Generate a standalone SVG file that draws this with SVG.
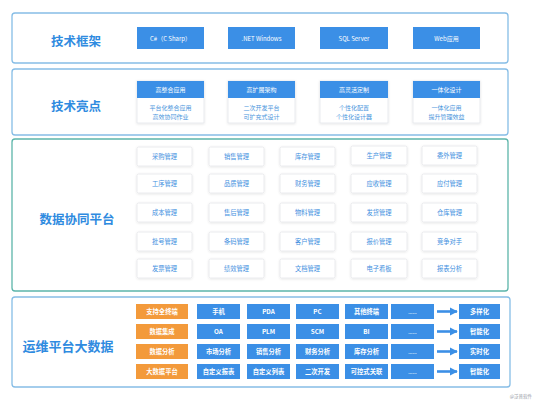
<svg xmlns="http://www.w3.org/2000/svg" width="541" height="400" viewBox="0 0 541 400">
<defs>
<filter id="sh" x="-20%" y="-30%" width="140%" height="160%"><feDropShadow dx="0" dy="0.6" stdDeviation="0.8" flood-color="#000" flood-opacity="0.12"/></filter>
<marker id="ah" viewBox="0 0 10 10" refX="9" refY="5" markerWidth="3" markerHeight="3.2" orient="auto"><path d="M0,0 L10,5 L0,10 Z" fill="#3b8fe6"/></marker>
</defs>
<style>
text{font-family:"Noto Sans CJK SC","Liberation Sans",sans-serif;text-anchor:middle;dominant-baseline:central}
.sec{fill:#fff;stroke:#86bde6;stroke-width:1.3}
.sec3{fill:#fff;stroke:#5cb5aa;stroke-width:1.3}
.ttl{font-size:12.5px;font-weight:bold;fill:#2f8be0}
.bb{fill:#3b8fe6}
.ob{fill:#f39a3b}
.wt{font-size:6px;fill:#fff}
.wb{font-size:6.3px;fill:#fff;font-weight:bold}
.dots{font-size:5px;fill:#fff}
.card{fill:#fff;stroke:#e4e6ea;stroke-width:0.8;filter:url(#sh)}
.ct{font-size:6.3px;fill:#3f90e0}
.bt{font-size:6px;fill:#4a95dc}
</style>
<rect width="541" height="400" fill="#fff"/>

<g id="sec1">
<rect class="sec" x="12" y="13" width="496" height="50" rx="3"/>
<text class="ttl" x="76" y="40">技术框架</text>
<g id="tf1"><rect class="bb" x="137" y="27" width="67" height="22"/><text class="wt" x="170.5" y="38">C#（C Sharp）</text></g>
<g id="tf2"><rect class="bb" x="228" y="27" width="67" height="22"/><text class="wt" x="261.5" y="38">.NET  Windows</text></g>
<g id="tf3"><rect class="bb" x="320" y="27" width="68" height="22"/><text class="wt" x="354" y="38">SQL Server</text></g>
<g id="tf4"><rect class="bb" x="413" y="27" width="67" height="22"/><text class="wt" x="446.5" y="38">Web应用</text></g>
</g>

<g id="sec2">
<rect class="sec" x="12" y="69" width="496" height="66" rx="3"/>
<text class="ttl" x="76" y="105">技术亮点</text>
<g id="hl1"><rect class="card" x="137" y="81" width="67" height="42"/><rect class="bb" x="137" y="81" width="67" height="17"/><text class="wt" x="170.5" y="89.5">高整合应用</text><text class="bt" x="170.5" y="107">平台化整合应用</text><text class="bt" x="170.5" y="116">高效协同作业</text></g>
<g id="hl2"><rect class="card" x="228" y="81" width="67" height="42"/><rect class="bb" x="228" y="81" width="67" height="17"/><text class="wt" x="261.5" y="89.5">高扩展架构</text><text class="bt" x="261.5" y="107">二次开发平台</text><text class="bt" x="261.5" y="116">可扩充式设计</text></g>
<g id="hl3"><rect class="card" x="320" y="81" width="68" height="42"/><rect class="bb" x="320" y="81" width="68" height="17"/><text class="wt" x="354" y="89.5">高灵活定制</text><text class="bt" x="354" y="107">个性化配置</text><text class="bt" x="354" y="116">个性化设计器</text></g>
<g id="hl4"><rect class="card" x="413" y="81" width="67" height="42"/><rect class="bb" x="413" y="81" width="67" height="17"/><text class="wt" x="446.5" y="89.5">一体化设计</text><text class="bt" x="446.5" y="107">一体化应用</text><text class="bt" x="446.5" y="116">提升管理效益</text></g>
</g>

<g id="sec3">
<rect class="sec3" x="12" y="139" width="496" height="152" rx="3"/>
<text class="ttl" x="77" y="218">数据协同平台</text>
<g id="m1"><rect class="card" x="137" y="147" width="55" height="19" rx="1.5"/><text class="ct" x="164.5" y="156.5">采购管理</text></g>
<g id="m2"><rect class="card" x="209" y="147" width="55" height="19" rx="1.5"/><text class="ct" x="236.5" y="156.5">销售管理</text></g>
<g id="m3"><rect class="card" x="280" y="147" width="55" height="19" rx="1.5"/><text class="ct" x="307.5" y="156.5">库存管理</text></g>
<g id="m4"><rect class="card" x="351" y="146" width="56" height="19" rx="1.5"/><text class="ct" x="379" y="155.5">生产管理</text></g>
<g id="m5"><rect class="card" x="422" y="146" width="55" height="19" rx="1.5"/><text class="ct" x="449.5" y="155.5">委外管理</text></g>

<g id="m6"><rect class="card" x="137" y="174" width="55" height="19" rx="1.5"/><text class="ct" x="164.5" y="183.5">工序管理</text></g>
<g id="m7"><rect class="card" x="209" y="174" width="55" height="19" rx="1.5"/><text class="ct" x="236.5" y="183.5">品质管理</text></g>
<g id="m8"><rect class="card" x="280" y="174" width="55" height="19" rx="1.5"/><text class="ct" x="307.5" y="183.5">财务管理</text></g>
<g id="m9"><rect class="card" x="351" y="174" width="56" height="19" rx="1.5"/><text class="ct" x="379" y="183.5">应收管理</text></g>
<g id="m10"><rect class="card" x="422" y="174" width="55" height="19" rx="1.5"/><text class="ct" x="449.5" y="183.5">应付管理</text></g>

<g id="m11"><rect class="card" x="137" y="203" width="55" height="19" rx="1.5"/><text class="ct" x="164.5" y="212.5">成本管理</text></g>
<g id="m12"><rect class="card" x="209" y="203" width="55" height="19" rx="1.5"/><text class="ct" x="236.5" y="212.5">售后管理</text></g>
<g id="m13"><rect class="card" x="280" y="203" width="55" height="19" rx="1.5"/><text class="ct" x="307.5" y="212.5">物料管理</text></g>
<g id="m14"><rect class="card" x="351" y="203" width="56" height="19" rx="1.5"/><text class="ct" x="379" y="212.5">发货管理</text></g>
<g id="m15"><rect class="card" x="422" y="203" width="55" height="19" rx="1.5"/><text class="ct" x="449.5" y="212.5">仓库管理</text></g>

<g id="m16"><rect class="card" x="137" y="232" width="55" height="19" rx="1.5"/><text class="ct" x="164.5" y="241.5">批号管理</text></g>
<g id="m17"><rect class="card" x="209" y="232" width="55" height="19" rx="1.5"/><text class="ct" x="236.5" y="241.5">条码管理</text></g>
<g id="m18"><rect class="card" x="280" y="232" width="55" height="19" rx="1.5"/><text class="ct" x="307.5" y="241.5">客户管理</text></g>
<g id="m19"><rect class="card" x="351" y="232" width="56" height="19" rx="1.5"/><text class="ct" x="379" y="241.5">报价管理</text></g>
<g id="m20"><rect class="card" x="422" y="232" width="55" height="19" rx="1.5"/><text class="ct" x="449.5" y="241.5">竞争对手</text></g>

<g id="m21"><rect class="card" x="137" y="259" width="55" height="19" rx="1.5"/><text class="ct" x="164.5" y="268.5">发票管理</text></g>
<g id="m22"><rect class="card" x="209" y="259" width="55" height="19" rx="1.5"/><text class="ct" x="236.5" y="268.5">绩效管理</text></g>
<g id="m23"><rect class="card" x="280" y="259" width="55" height="19" rx="1.5"/><text class="ct" x="307.5" y="268.5">文档管理</text></g>
<g id="m24"><rect class="card" x="351" y="259" width="56" height="19" rx="1.5"/><text class="ct" x="379" y="268.5">电子看板</text></g>
<g id="m25"><rect class="card" x="422" y="259" width="55" height="19" rx="1.5"/><text class="ct" x="449.5" y="268.5">报表分析</text></g>
</g>

<g id="sec4">
<rect class="sec" x="12" y="297" width="498" height="90" rx="3"/>
<text class="ttl" x="68" y="345" style="font-size:13px">运维平台大数据</text>

<g id="r1">
<rect class="ob" x="136" y="304" width="52" height="15"/><text class="wb" x="162" y="311.5">支持全终端</text>
<rect class="bb" x="197" y="304" width="43" height="15"/><text class="wb" x="218.5" y="311.5">手机</text>
<rect class="bb" x="247" y="304" width="43" height="15"/><text class="wb" x="268.5" y="311.5">PDA</text>
<rect class="bb" x="296" y="304" width="43" height="15"/><text class="wb" x="317.5" y="311.5">PC</text>
<rect class="bb" x="345" y="304" width="43" height="15"/><text class="wb" x="366.5" y="311.5">其他终端</text>
<rect class="bb" x="391" y="304" width="43" height="15"/><text class="dots" x="412.5" y="311.5">......</text>
<rect class="bb" x="459" y="304" width="41" height="15"/><text class="wb" x="479.5" y="311.5">多样化</text>
</g>
<g id="r2">
<rect class="ob" x="136" y="324" width="52" height="15"/><text class="wb" x="162" y="331.5">数据集成</text>
<rect class="bb" x="197" y="324" width="43" height="15"/><text class="wb" x="218.5" y="331.5">OA</text>
<rect class="bb" x="247" y="324" width="43" height="15"/><text class="wb" x="268.5" y="331.5">PLM</text>
<rect class="bb" x="296" y="324" width="43" height="15"/><text class="wb" x="317.5" y="331.5">SCM</text>
<rect class="bb" x="345" y="324" width="43" height="15"/><text class="wb" x="366.5" y="331.5">BI</text>
<rect class="bb" x="391" y="324" width="43" height="15"/><text class="dots" x="412.5" y="331.5">......</text>
<rect class="bb" x="459" y="324" width="41" height="15"/><text class="wb" x="479.5" y="331.5">智能化</text>
</g>
<g id="r3">
<rect class="ob" x="136" y="344" width="52" height="15"/><text class="wb" x="162" y="351.5">数据分析</text>
<rect class="bb" x="197" y="344" width="43" height="15"/><text class="wb" x="218.5" y="351.5">市场分析</text>
<rect class="bb" x="247" y="344" width="43" height="15"/><text class="wb" x="268.5" y="351.5">销售分析</text>
<rect class="bb" x="296" y="344" width="43" height="15"/><text class="wb" x="317.5" y="351.5">财务分析</text>
<rect class="bb" x="345" y="344" width="43" height="15"/><text class="wb" x="366.5" y="351.5">库存分析</text>
<rect class="bb" x="391" y="344" width="43" height="15"/><text class="dots" x="412.5" y="351.5">......</text>
<rect class="bb" x="459" y="344" width="41" height="15"/><text class="wb" x="479.5" y="351.5">实时化</text>
</g>
<g id="r4">
<rect class="ob" x="136" y="364" width="52" height="15"/><text class="wb" x="162" y="371.5">大数据平台</text>
<rect class="bb" x="197" y="364" width="43" height="15"/><text class="wb" x="218.5" y="371.5">自定义报表</text>
<rect class="bb" x="247" y="364" width="43" height="15"/><text class="wb" x="268.5" y="371.5">自定义列表</text>
<rect class="bb" x="296" y="364" width="43" height="15"/><text class="wb" x="317.5" y="371.5">二次开发</text>
<rect class="bb" x="345" y="364" width="43" height="15"/><text class="wb" x="366.5" y="371.5">可控式关联</text>
<rect class="bb" x="391" y="364" width="43" height="15"/><text class="dots" x="412.5" y="371.5">......</text>
<rect class="bb" x="459" y="364" width="41" height="15"/><text class="wb" x="479.5" y="371.5">智能化</text>
</g>
</g>

<g id="connectors" stroke="#3b8fe6" stroke-width="2.6" fill="none">
<line x1="437" y1="311.5" x2="457" y2="311.5" marker-end="url(#ah)"/>
<line x1="437" y1="331.5" x2="457" y2="331.5" marker-end="url(#ah)"/>
<line x1="437" y1="351.5" x2="457" y2="351.5" marker-end="url(#ah)"/>
<line x1="437" y1="371.5" x2="457" y2="371.5" marker-end="url(#ah)"/>
</g>

<text x="521" y="396" style="font-size:4.5px;fill:#9aa0a8">@泛普软件</text>
</svg>
